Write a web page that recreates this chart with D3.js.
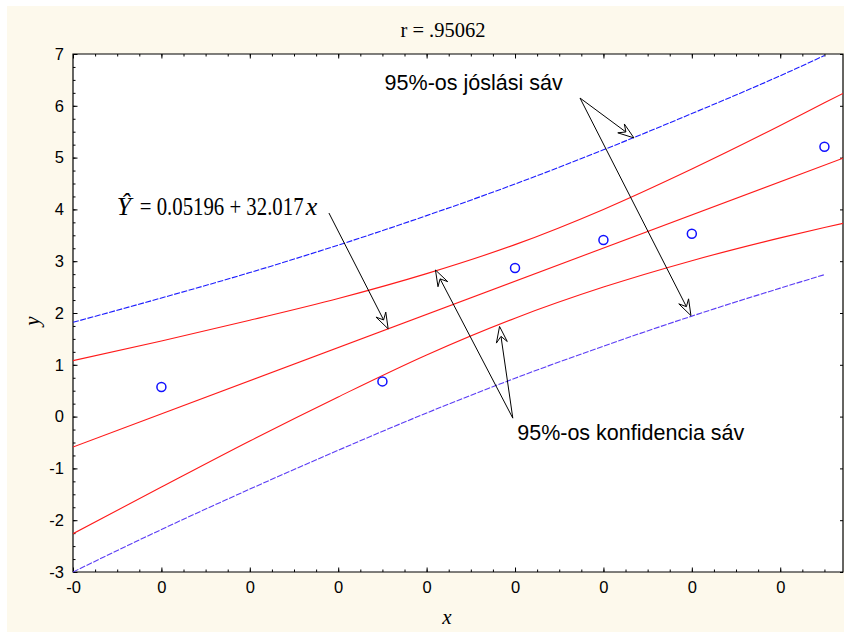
<!DOCTYPE html>
<html>
<head>
<meta charset="utf-8">
<script src="https://cdn.jsdelivr.net/npm/d3@7"></script>
<style>
  html, body { margin: 0; padding: 0; background: #ffffff; }
  svg { display: block; }
</style>
</head>
<body>
<svg id="chart" width="844" height="635"></svg>
<script>
// Observations
const obsX = [0, 0.05, 0.08, 0.10, 0.12, 0.15];
const obsY = [0.57, 0.68, 2.87, 3.41, 3.53, 5.21];

// Fitted line Y = a + b x
const intercept = 0.05196;
const slope = 32.017;
const fitRange = [-0.02, 0.1542];

// 95% confidence band of the mean
const confX = [-0.02, 0, 0.02, 0.04, 0.06, 0.08, 0.10, 0.12, 0.14, 0.15, 0.1542];
const confLower = [-2.26, -1.36, -0.47, 0.38, 1.19, 1.90, 2.50, 3.01, 3.45, 3.65, 3.73];
const confUpper = [1.08, 1.46, 1.86, 2.28, 2.76, 3.32, 4.00, 4.78, 5.62, 6.06, 6.24];

// 95% prediction band
const predX = [-0.02, 0, 0.02, 0.04, 0.06, 0.08, 0.10, 0.12, 0.14, 0.15];
const predLower = [-3.00, -2.18, -1.40, -0.65, 0.07, 0.74, 1.36, 1.94, 2.48, 2.74];
const predUpper = [1.82, 2.29, 2.78, 3.31, 3.88, 4.49, 5.15, 5.85, 6.58, 6.97];

// Axis ticks
const xTicks = [-0.02, 0, 0.02, 0.04, 0.06, 0.08, 0.10, 0.12, 0.14];
const xTickLabels = ["-0", "0", "0", "0", "0", "0", "0", "0", "0"];
const yTicks = [-3, -2, -1, 0, 1, 2, 3, 4, 5, 6, 7];
const yTickLabels = ["-3", "-2", "-1", "0", "1", "2", "3", "4", "5", "6", "7"];

const titleText = "r = .95062";
const predLabel = "95%-os jóslási sáv";
const confLabel = "95%-os konfidencia sáv";

const svg = d3.select("#chart");
const W = 844, H = 635;
const plot = { left: 73, right: 843, top: 54, bottom: 572 };

const x = d3.scaleLinear().domain([-0.02, 0.1542]).range([plot.left, plot.right]);
const y = d3.scaleLinear().domain([-3, 7]).range([plot.bottom, plot.top]);

// Panel background
svg.append("rect").attr("x", 0).attr("y", 0).attr("width", W).attr("height", H).attr("fill", "#ffffff");
svg.append("rect").attr("x", 7).attr("y", 6).attr("width", W - 7).attr("height", H - 9).attr("fill", "#fdf9ec");
svg.append("rect")
  .attr("x", plot.left).attr("y", plot.top)
  .attr("width", plot.right - plot.left).attr("height", plot.bottom - plot.top)
  .attr("fill", "#ffffff");

// Title
svg.append("text")
  .attr("x", 443).attr("y", 37)
  .attr("text-anchor", "middle")
  .attr("font-family", "'Liberation Serif', 'Times New Roman', serif")
  .attr("font-size", 20.5)
  .attr("fill", "#000")
  .text(titleText);

// Axes: ticks point into the plot on all four sides
const minorX = d3.range(-0.02, 0.1542, 0.005).map(v => +v.toFixed(4));
const minorY = d3.range(-3, 7.001, 0.25).map(v => +v.toFixed(2));

const axisFont = "'Liberation Sans', Arial, sans-serif";
const serifFont = "'Liberation Serif', 'Times New Roman', serif";

function styleAxis(g) {
  g.select(".domain").remove();
  g.selectAll("line").attr("stroke", "#000").attr("stroke-width", 1);
  g.selectAll("text").attr("font-family", axisFont).attr("font-size", 16.5).attr("fill", "#000");
}

// bottom
const bottomMinor = svg.append("g").attr("transform", `translate(0,${plot.bottom})`)
  .call(d3.axisBottom(x).tickValues(minorX).tickSize(-2.5).tickFormat(""));
styleAxis(bottomMinor);
const bottomMajor = svg.append("g").attr("transform", `translate(0,${plot.bottom})`)
  .call(d3.axisBottom(x).tickValues(xTicks).tickSize(-4.5).tickPadding(18)
    .tickFormat((d, i) => xTickLabels[i]));
styleAxis(bottomMajor);
bottomMajor.selectAll("text").attr("dy", "0.2em");

// top
const topMinor = svg.append("g").attr("transform", `translate(0,${plot.top})`)
  .call(d3.axisTop(x).tickValues(minorX).tickSize(-2.5).tickFormat(""));
styleAxis(topMinor);
const topMajor = svg.append("g").attr("transform", `translate(0,${plot.top})`)
  .call(d3.axisTop(x).tickValues(xTicks).tickSize(-4.5).tickFormat(""));
styleAxis(topMajor);

// left
const leftMinor = svg.append("g").attr("transform", `translate(${plot.left},0)`)
  .call(d3.axisLeft(y).tickValues(minorY).tickSize(-2.5).tickFormat(""));
styleAxis(leftMinor);
const leftMajor = svg.append("g").attr("transform", `translate(${plot.left},0)`)
  .call(d3.axisLeft(y).tickValues(yTicks).tickSize(-4.5).tickPadding(9)
    .tickFormat((d, i) => yTickLabels[i]));
styleAxis(leftMajor);

// right
const rightMajor = svg.append("g").attr("transform", `translate(${plot.right},0)`)
  .call(d3.axisRight(y).tickValues(yTicks).tickSize(-3).tickFormat(""));
styleAxis(rightMajor);

// Frame
svg.append("path")
  .attr("d", `M${plot.left},${plot.top}H${plot.right}V${plot.bottom}H${plot.left}Z`)
  .attr("fill", "none").attr("stroke", "#000").attr("stroke-width", 1.2);

// Axis titles
svg.append("text")
  .attr("x", 447).attr("y", 624)
  .attr("text-anchor", "middle")
  .attr("font-family", serifFont)
  .attr("font-style", "italic").attr("font-size", 21)
  .text("x");
svg.append("text")
  .attr("transform", "translate(39,321) rotate(-90)")
  .attr("text-anchor", "middle")
  .attr("font-family", serifFont)
  .attr("font-style", "italic").attr("font-size", 21)
  .text("y");

// Data layers, clipped to the plot
svg.append("clipPath").attr("id", "plotClip")
  .append("rect")
  .attr("x", plot.left).attr("y", plot.top - 1)
  .attr("width", plot.right - plot.left).attr("height", plot.bottom - plot.top + 2);
const layer = svg.append("g").attr("clip-path", "url(#plotClip)");

const band = (xs, ys) => d3.line()
  .x((d, i) => x(xs[i]))
  .y(d => y(d))
  .curve(d3.curveMonotoneX)(ys);

// Prediction band (dashed blue)
layer.append("path").attr("d", band(predX, predUpper))
  .attr("fill", "none").attr("stroke", "#1c1cff").attr("stroke-width", 1.1)
  .attr("stroke-dasharray", "6,1.5");
layer.append("path").attr("d", band(predX, predLower))
  .attr("fill", "none").attr("stroke", "#5a3cf5").attr("stroke-width", 1.1)
  .attr("stroke-dasharray", "6,1.5");

// Confidence band (red)
layer.append("path").attr("d", band(confX, confUpper))
  .attr("fill", "none").attr("stroke", "#ff1a1a").attr("stroke-width", 1.1);
layer.append("path").attr("d", band(confX, confLower))
  .attr("fill", "none").attr("stroke", "#ff1a1a").attr("stroke-width", 1.1);

// Regression line
layer.append("path")
  .attr("d", d3.line().x(d => x(d)).y(d => y(intercept + slope * d))(fitRange))
  .attr("fill", "none").attr("stroke", "#ff1a1a").attr("stroke-width", 1.1);

// Observations
layer.selectAll("circle.obs")
  .data(obsX)
  .join("circle")
  .attr("class", "obs")
  .attr("cx", d => x(d))
  .attr("cy", (d, i) => y(obsY[i]))
  .attr("r", 4.5)
  .attr("fill", "none")
  .attr("stroke", "#1010ff")
  .attr("stroke-width", 1.5);

// Annotation arrows (positions in data units)
function arrow(from, to) {
  const x0 = x(from[0]), y0 = y(from[1]);
  const x1 = x(to[0]), y1 = y(to[1]);
  const ang = Math.atan2(y1 - y0, x1 - x0);
  const len = 16, half = 5.5, notch = 10;
  const ux = Math.cos(ang), uy = Math.sin(ang);
  const bx = x1 - ux * len, by = y1 - uy * len;
  const nx = x1 - ux * notch, ny = y1 - uy * notch;
  const l = [bx - uy * half, by + ux * half];
  const r = [bx + uy * half, by - ux * half];
  svg.append("line")
    .attr("x1", x0).attr("y1", y0).attr("x2", nx).attr("y2", ny)
    .attr("stroke", "#000").attr("stroke-width", 1);
  svg.append("path")
    .attr("d", `M${x1},${y1}L${l[0]},${l[1]}L${nx},${ny}L${r[0]},${r[1]}Z`)
    .attr("fill", "#ffffff").attr("stroke", "#000").attr("stroke-width", 1)
    .attr("stroke-linejoin", "miter");
}

// Equation of the fitted line: italic Ŷ, the coefficients (narrowed), italic x
const eqX = x(-0.0101), eqY = y(3.9);
const eqG = svg.append("g")
  .attr("font-family", serifFont)
  .attr("font-size", 26)
  .attr("fill", "#000");
eqG.append("text").attr("x", eqX).attr("y", eqY)
  .attr("font-style", "italic").text("\u0176");
eqG.append("text")
  .attr("transform", `translate(${eqX + 23},${eqY}) scale(0.8,1)`)
  .text(`= ${intercept} + ${slope}`);
eqG.append("text").attr("x", eqX + 189).attr("y", eqY)
  .attr("font-style", "italic").text("x");

arrow([0.0379, 3.93], [0.0513, intercept + slope * 0.0513]);

// Prediction band label
svg.append("text")
  .attr("x", x(0.0505)).attr("y", y(6.3))
  .attr("font-family", axisFont).attr("font-size", 21.5).attr("fill", "#000")
  .text(predLabel);
arrow([0.0947, 6.15], [0.1069, 5.38]);
arrow([0.0947, 6.15], [0.1198, 1.95]);

// Confidence band label
svg.append("text")
  .attr("x", x(0.0805)).attr("y", y(-0.46))
  .attr("font-family", axisFont).attr("font-size", 21.5).attr("fill", "#000")
  .text(confLabel);
arrow([0.0795, -0.03], [0.0620, 2.83]);
arrow([0.0795, -0.03], [0.0765, 1.74]);
</script>
</body>
</html>
